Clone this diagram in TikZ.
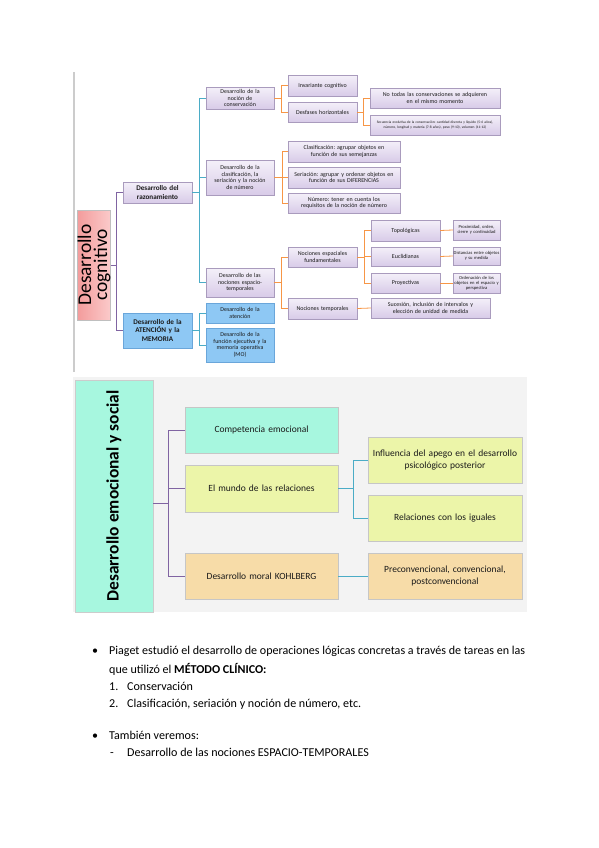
\documentclass[tikz,border=0pt]{standalone}
\usepackage{fontspec}
\setmainfont{Carlito}
\usetikzlibrary{shadows}
\definecolor{purpline}{HTML}{8064A2}
\definecolor{tealline}{HTML}{4BACC6}
\definecolor{orgline}{HTML}{F79646}
\definecolor{lavtop}{HTML}{F4F0F9}
\definecolor{lavbot}{HTML}{D8CBE8}
\definecolor{lavdraw}{HTML}{A99BBD}
\definecolor{pinktop}{HTML}{FBCACA}
\definecolor{pinkbot}{HTML}{F39C9C}
\definecolor{bluefill}{HTML}{8EC8F4}
\definecolor{bluedraw}{HTML}{6AA6DA}
\definecolor{mint}{HTML}{A7F7DF}
\definecolor{lime}{HTML}{ECF5A9}
\definecolor{peach}{HTML}{F7DCA8}
\definecolor{panel}{HTML}{F3F3F3}
\definecolor{txt}{HTML}{1A1A1A}
\frenchspacing
\begin{document}
\begin{tikzpicture}[x=1bp,y=-1bp,
  shd/.style={drop shadow={shadow xshift=1bp,shadow yshift=-1.2bp,opacity=.35}},
  lav/.style={shd,rectangle,draw=lavdraw,line width=.4bp,top color=lavtop,bottom color=lavbot,
     inner sep=0.5bp,align=center,text=txt,font=\fontsize{6}{6.6}\selectfont},
  bluebox/.style={shd,rectangle,draw=bluedraw,line width=.4bp,fill=bluefill,
     inner sep=0.5bp,align=center,text=txt,font=\fontsize{6}{6.6}\selectfont},
  bigbox/.style={shd,rectangle,draw=gray!45,line width=.4bp,inner sep=1bp,align=center,
     text=txt,font=\fontsize{9.5}{11.5}\selectfont},
  pline/.style={purpline,line width=.8bp},
  tline/.style={tealline,line width=.8bp},
  oline/.style={orgline,line width=.8bp},
  listtxt/.style={anchor=base west,inner sep=0pt,font=\fontsize{12.1}{14}\selectfont,text=black}
]
\useasboundingbox (0,0) rectangle (599,848);

% ---------- top diagram ----------
\draw[gray!40,line width=2bp] (74,72) -- (74,372);

\node[shd,rotate=90,rectangle,draw=gray!50,line width=.4bp,left color=pinkbot,right color=pinktop,
  minimum width=110bp,minimum height=32bp,inner sep=0pt,align=center,
  font=\fontsize{19.5}{16}\selectfont,text=black] (root) at (94,265) {Desarrollo\\cognitivo};

\node[lav,minimum width=69bp,minimum height=21bp,text width=67bp,font=\bfseries\fontsize{7.2}{8.4}\selectfont] (razon) at (157.5,192.5) {Desarrollo del\\razonamiento};
\node[bluebox,minimum width=69bp,minimum height=35bp,text width=67bp,font=\bfseries\fontsize{7.2}{8.4}\selectfont] (atmem) at (157.5,330.5) {Desarrollo de la\\ATENCIÓN y la\\MEMORIA};

\node[lav,minimum width=68bp,minimum height=22bp,text width=64bp] (conserv) at (240,98) {Desarrollo de la\\noción de\\conservación};
\node[lav,minimum width=68bp,minimum height=35bp,text width=64bp] (clasif) at (240,177.5) {Desarrollo de la\\clasificación, la\\seriación y la noción\\de número};
\node[lav,minimum width=68bp,minimum height=29bp,text width=64bp] (espt) at (240,282.5) {Desarrollo de las\\nociones espacio-\\temporales};
\node[bluebox,minimum width=68bp,minimum height=20bp,text width=64bp] (atenc) at (240,313) {Desarrollo de la\\atención};
\node[bluebox,minimum width=68bp,minimum height=34bp,text width=64bp] (funcion) at (240,345) {Desarrollo de la\\función ejecutiva y la\\memoria operativa\\(MO)};

\node[lav,minimum width=69bp,minimum height=21bp,text width=66bp] (invar) at (322.5,85.5) {Invariante cognitivo};
\node[lav,minimum width=69bp,minimum height=20bp,text width=66bp] (desf) at (322.5,112) {Desfases horizontales};
\node[lav,minimum width=130bp,minimum height=20bp,text width=127bp] (notodas) at (435,98) {No todas las conservaciones se adquieren\\en el mismo momento};
\node[lav,minimum width=130bp,minimum height=20bp,text width=128bp,font=\fontsize{3.6}{4.4}\selectfont] (secu) at (435,125) {Secuencia evolutiva de la conservación: cantidad discreta y líquido (5-6 años),\\número, longitud y materia (7-8 años), peso (9-10), volumen (11-12)};

\node[lav,minimum width=112bp,minimum height=21bp,text width=108bp] (clasa) at (344,151.5) {Clasificación: agrupar objetos en\\función de sus semejanzas};
\node[lav,minimum width=112bp,minimum height=21bp,text width=108bp] (seri) at (344,177.5) {Seriación: agrupar y ordenar objetos en\\función de sus DIFERENCIAS};
\node[lav,minimum width=112bp,minimum height=20bp,text width=108bp] (num) at (344,203) {Número: tener en cuenta los\\requisitos de la noción de número};

\node[lav,minimum width=69bp,minimum height=20bp,text width=66bp] (nocesp) at (322.5,257) {Nociones espaciales\\fundamentales};
\node[lav,minimum width=69bp,minimum height=21bp,text width=66bp] (noctemp) at (322.5,308.5) {Nociones temporales};
\node[lav,minimum width=69bp,minimum height=21bp,text width=66bp] (topo) at (405.5,230.5) {Topológicas};
\node[lav,minimum width=69bp,minimum height=19bp,text width=66bp] (eucl) at (405.5,256.5) {Euclidianas};
\node[lav,minimum width=69bp,minimum height=20bp,text width=66bp] (proy) at (405.5,283) {Proyectivas};
\node[lav,minimum width=119bp,minimum height=20bp,text width=116bp] (suces) at (430.5,308) {Sucesión, inclusión de intervalos y\\elección de unidad de medida};
\node[lav,minimum width=47bp,minimum height=20bp,text width=46bp,font=\fontsize{4.6}{5.2}\selectfont] (proxi) at (476.5,230) {Proximidad, orden,\\cierre y continuidad};
\node[lav,minimum width=47bp,minimum height=18bp,text width=46bp,font=\fontsize{4.6}{5.2}\selectfont] (dist) at (476.5,256) {Distancias entre objetos\\y su medida};
\node[lav,minimum width=47bp,minimum height=20bp,text width=46bp,font=\fontsize{4.6}{5.2}\selectfont] (orden) at (476.5,283) {Ordenación de los\\objetos en el espacio y\\perspectiva};

% connectors top
\draw[pline] (root.south) -- ++(6,0) coordinate (r1) |- (razon.west);
\draw[pline] (r1) |- (atmem.west);
\foreach \t in {conserv,clasif,espt}{\draw[tline] (razon.east) -- ++(7,0) |- (\t.west);}
\foreach \t in {atenc,funcion}{\draw[tline] (atmem.east) -- ++(7,0) |- (\t.west);}
\foreach \t in {invar,desf}{\draw[oline] (conserv.east) -- ++(7,0) |- (\t.west);}
\foreach \t in {notodas,secu}{\draw[oline] (desf.east) -- ++(6,0) |- (\t.west);}
\foreach \t in {clasa,seri,num}{\draw[oline] (clasif.east) -- ++(8,0) |- (\t.west);}
\foreach \t in {nocesp,noctemp}{\draw[oline] (espt.east) -- ++(7,0) |- (\t.west);}
\foreach \t in {topo,eucl,proy}{\draw[oline] (nocesp.east) -- ++(7,0) |- (\t.west);}
\draw[oline] (noctemp.east) -- (suces.west);
\draw[oline] (topo.east) -- (proxi.west);
\draw[oline] (eucl.east) -- (dist.west);
\draw[oline] (proy.east) -- (orden.west);

% ---------- bottom diagram ----------
\fill[panel] (73,377) rectangle (527,612);
\node[rotate=90,rectangle,draw=gray!40,line width=.4bp,fill=mint,minimum width=232bp,minimum height=78bp,
  inner sep=0pt,font=\bfseries\fontsize{17.5}{18}\selectfont,text=black] (emoc) at (114,496) {Desarrollo emocional y social};

\node[bigbox,fill=mint,minimum width=153bp,minimum height=46bp,text width=148bp] (comp) at (261.5,430) {Competencia emocional};
\node[bigbox,fill=lime,minimum width=153bp,minimum height=47bp,text width=148bp] (mundo) at (261.5,488.5) {El mundo de las relaciones};
\node[bigbox,fill=peach,minimum width=153bp,minimum height=46bp,text width=148bp] (moral) at (261.5,576) {Desarrollo moral KOHLBERG};
\node[bigbox,fill=lime,minimum width=154bp,minimum height=46bp,text width=152bp] (influ) at (445,460) {Influencia del apego en el desarrollo\\psicológico posterior};
\node[bigbox,fill=lime,minimum width=154bp,minimum height=46bp,text width=150bp] (igual) at (445,518) {Relaciones con los iguales};
\node[bigbox,fill=peach,minimum width=154bp,minimum height=46bp,text width=150bp] (precon) at (445,576) {Preconvencional, convencional,\\postconvencional};

\draw[pline] (emoc.south) ++(0,7) -- ++(15,0) coordinate (e1) |- (comp.west);
\draw[pline] (e1) |- (mundo.west);
\draw[pline] (e1) |- (moral.west);
\foreach \t in {influ,igual}{\draw[tline] (mundo.east) -- ++(15,0) |- (\t.west);}
\draw[tline] (moral.east) -- (precon.west);

% ---------- text ----------
\node[listtxt] (b1) at (92,654) {•};
\node[listtxt] (l1) at (109,654) {Piaget estudió el desarrollo de operaciones lógicas concretas a través de tareas en las};
\node[listtxt] (l2) at (109,673) {que utilizó el \textbf{MÉTODO CLÍNICO:}};
\node[listtxt] (n1) at (109,690) {1.};
\node[listtxt] (l3) at (127,690) {Conservación};
\node[listtxt] (n2) at (109,707) {2.};
\node[listtxt] (l4) at (127,707) {Clasificación, seriación y noción de número, etc.};
\node[listtxt] (b2) at (92,739) {•};
\node[listtxt] (l5) at (109,739) {También veremos:};
\node[listtxt] (d1) at (110,756) {-};
\node[listtxt] (l6) at (127,756) {Desarrollo de las nociones ESPACIO-TEMPORALES};
\end{tikzpicture}
\end{document}
